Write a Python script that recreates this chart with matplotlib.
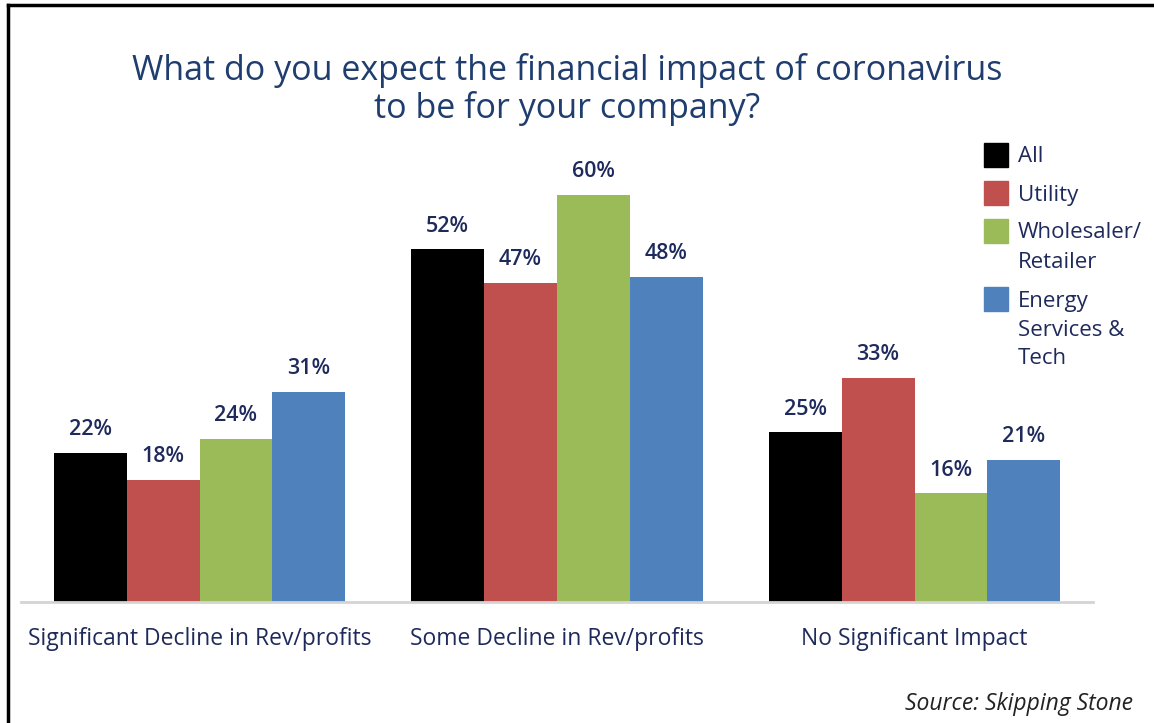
import numpy as np
import matplotlib.pyplot as plt
from matplotlib.patches import Rectangle
from matplotlib.lines import Line2D

plt.rcParams['font.family'] = ['Open Sans', 'DejaVu Sans']

categories = ["Significant Decline in Rev/profits", "Some Decline in Rev/profits", "No Significant Impact"]
series_names = ["All", "Utility", "Wholesaler/\nRetailer", "Energy\nServices &\nTech"]
all_vals = [22, 52, 25]
utility_vals = [18, 47, 33]
wholesale_vals = [24, 60, 16]
energy_vals = [31, 48, 21]
colors = ["#000000", "#c0504d", "#9bbb59", "#4f81bd"]

navy = "#1f2a5c"
title_blue = "#1f3d6e"

fig = plt.figure(figsize=(11.54, 7.23), dpi=100)
ax = fig.add_axes([0.018, 0.1674, 0.9294, 0.6095])

values = [all_vals, utility_vals, wholesale_vals, energy_vals]
x = np.arange(len(categories))
width = 0.204
offsets = (np.arange(4) - 1.5) * width

for vals, off, col in zip(values, offsets, colors):
    bars = ax.bar(x + off, vals, width, color=col, linewidth=0)
    for b, v in zip(bars, vals):
        ax.text(b.get_x() + b.get_width() / 2, v + 1.9, f"{v}%",
                ha="center", va="bottom", fontsize=15.5, fontweight="semibold",
                color=navy)

ax.set_xlim(-0.5, 2.5)
ax.set_ylim(0, 65)
ax.set_yticks([])
ax.set_xticks([])
for side in ["top", "right", "left"]:
    ax.spines[side].set_visible(False)
ax.spines["bottom"].set_color("#d4d4d4")
ax.spines["bottom"].set_linewidth(2)

for xi, cat in zip(x, categories):
    ax.text(xi, -5.4, cat, ha="center", va="center", fontsize=16.5, color=navy)

# title
fig.text(0.4915, 1 - 89.5 / 723, "What do you expect the financial impact of coronavirus\nto be for your company?",
         ha="center", va="center", fontsize=24.5, color=title_blue, linespacing=1.1)

# legend drawn by hand so the swatch sits beside the first line of each label
leg_x = 984 / 1154
sq_w = 24 / 1154
sq_h = 24 / 723
leg_tops = [143, 181, 219, 287]
for name, col, top in zip(series_names, colors, leg_tops):
    y0 = 1 - (top + 24) / 723
    fig.patches.append(Rectangle((leg_x, y0), sq_w, sq_h, color=col,
                                 transform=fig.transFigure, figure=fig))
    fig.text(1018 / 1154, 1 - (top + 3.5) / 723, name, ha="left", va="top",
             fontsize=16, color=navy, linespacing=1.5)

# source note
fig.text(1133 / 1154, 1 - 704 / 723, "Source: Skipping Stone", ha="right", va="center",
         fontsize=16.5, style="italic", color="#222222")

# frame lines along the top and left edge
fig.add_artist(Line2D([8 / 1154, 1.0], [1 - 5 / 723, 1 - 5 / 723], color="black",
                      linewidth=2.5, transform=fig.transFigure))
fig.add_artist(Line2D([8 / 1154, 8 / 1154], [0, 1 - 5 / 723], color="black",
                      linewidth=2.5, transform=fig.transFigure))

fig.savefig("out.png", dpi=100, facecolor="white")
